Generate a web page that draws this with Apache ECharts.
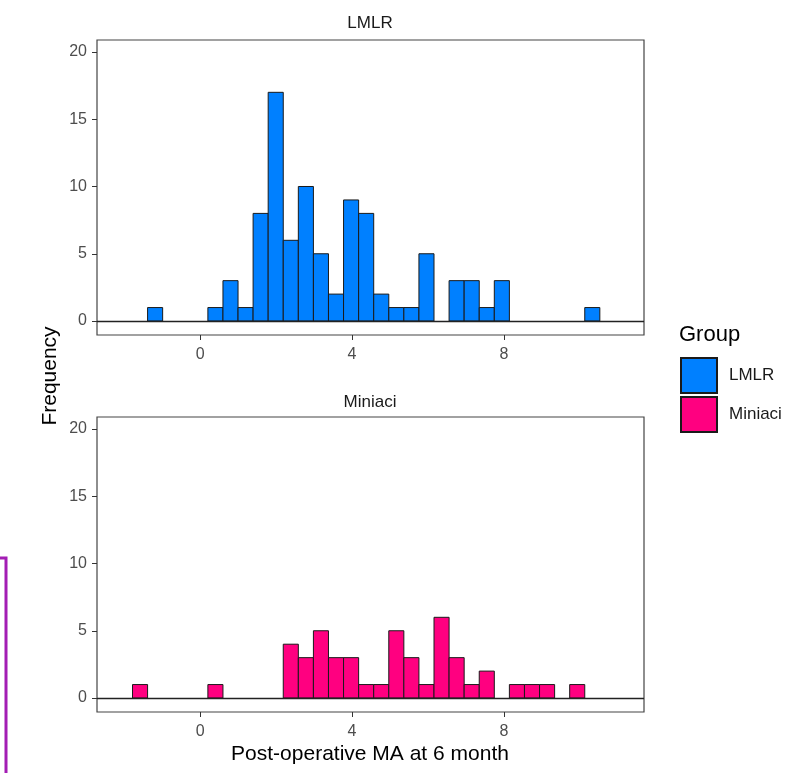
<!DOCTYPE html>
<html>
<head>
<meta charset="utf-8">
<script src="https://cdn.jsdelivr.net/npm/echarts@6/dist/echarts.min.js"></script>
<style>
html,body{margin:0;padding:0;background:#fff;}
#chart{width:796px;height:773px;}
</style>
</head>
<body>
<div id="chart"></div>
<script>
// ---- data ----
const groups = ['LMLR', 'Miniaci'];
const binStart = -1.78;
const binWidth = 0.397;
const lmlrCounts = [0,1,0,0,0,1,3,1,8,17,6,10,5,2,9,8,2,1,1,5,0,3,3,1,3,0,0,0,0,0,1];
const miniaciCounts = [1,0,0,0,0,1,0,0,0,0,4,3,5,3,3,1,1,5,3,1,6,3,1,2,0,1,1,1,0,1,0];
const xTickValues = [0, 4, 8];
const yTickValues = [0, 5, 10, 15, 20];
const xTitle = 'Post-operative MA at 6 month';
const yTitle = 'Frequency';
const legendTitle = 'Group';

const FONT = '"Liberation Sans", Arial, sans-serif';
const colors = ['#0080ff', '#ff0080'];

function toBins(counts) {
  return counts.map((c, i) => [binStart + i * binWidth, binStart + (i + 1) * binWidth, c])
               .filter(d => d[2] > 0);
}

const grids = [
  {left: 97, top: 40, width: 547, height: 295},
  {left: 97, top: 417, width: 547, height: 295}
];

function xAxisFor(i) {
  return {
    type: 'value', gridIndex: i, min: -2.715, max: 11.69,
    splitLine: {show: false},
    axisLine: {show: false, onZero: false},
    axisTick: {show: true, inside: false, customValues: xTickValues, length: 5, lineStyle: {color: '#333', width: 1}},
    axisLabel: {customValues: xTickValues, fontSize: 16, color: '#4d4d4d', fontFamily: FONT, margin: 12}
  };
}
function yAxisFor(i) {
  return {
    type: 'value', gridIndex: i, min: -1.04, max: 20.89,
    splitLine: {show: false},
    axisLine: {show: false, onZero: false},
    axisTick: {show: true, inside: false, customValues: yTickValues, length: 5, lineStyle: {color: '#333', width: 1}},
    axisLabel: {customValues: yTickValues, fontSize: 16, color: '#4d4d4d', fontFamily: FONT, margin: 10}
  };
}

function histSeries(i, counts) {
  return {
    name: groups[i],
    type: 'custom',
    xAxisIndex: i, yAxisIndex: i,
    itemStyle: {color: colors[i], borderColor: '#1a1a1a', borderWidth: 1},
    encode: {x: [0, 1], y: 2},
    data: toBins(counts),
    renderItem: function (params, api) {
      const p0 = api.coord([api.value(0), 0]);
      const p1 = api.coord([api.value(1), api.value(2)]);
      return {
        type: 'rect',
        shape: {x: p0[0], y: p1[1], width: p1[0] - p0[0], height: p0[1] - p1[1]},
        style: {fill: colors[i], stroke: '#1a1a1a', lineWidth: 1}
      };
    },
    markLine: {
      silent: true, symbol: ['none', 'none'], label: {show: false},
      lineStyle: {color: '#222', width: 1.3, type: 'solid'},
      data: [{yAxis: 0}],
      animation: false
    },
    z: 2
  };
}

const chart = echarts.init(document.getElementById('chart'));
chart.setOption({
  animation: false,
  backgroundColor: '#fff',
  grid: grids.map(g => Object.assign({show: true, borderColor: '#444', borderWidth: 1.2, backgroundColor: 'transparent'}, g)),
  xAxis: [xAxisFor(0), xAxisFor(1)],
  yAxis: [yAxisFor(0), yAxisFor(1)],
  legend: {
    orient: 'vertical', left: 675, top: 352,
    itemWidth: 36, itemHeight: 35, itemGap: 2,
    icon: 'rect',
    data: groups,
    textStyle: {fontSize: 17, color: '#1a1a1a', fontFamily: FONT, padding: [0, 0, 0, 7]}
  },
  graphic: [
    {type: 'text', x: 370, y: 23, style: {text: groups[0], fontSize: 17, fill: '#1a1a1a', font: '17px ' + FONT, textAlign: 'center', textVerticalAlign: 'middle'}},
    {type: 'text', x: 370, y: 402, style: {text: groups[1], fontSize: 17, fill: '#1a1a1a', font: '17px ' + FONT, textAlign: 'center', textVerticalAlign: 'middle'}},
    {type: 'text', x: 370, y: 754, style: {text: xTitle, font: '21px ' + FONT, fill: '#000', textAlign: 'center', textVerticalAlign: 'middle'}},
    {type: 'text', x: 50, y: 376, rotation: Math.PI / 2, style: {text: yTitle, font: '21px ' + FONT, fill: '#000', textAlign: 'center', textVerticalAlign: 'middle'}},
    {type: 'text', x: 679, y: 335, style: {text: legendTitle, font: '22px ' + FONT, fill: '#000', textAlign: 'left', textVerticalAlign: 'middle'}},
    {type: 'polyline', shape: {points: [[0, 558], [6, 558], [6, 773]]}, style: {stroke: '#a31db4', lineWidth: 3, fill: null}}
  ],
  series: [histSeries(0, lmlrCounts), histSeries(1, miniaciCounts)]
});
</script>
</body>
</html>
